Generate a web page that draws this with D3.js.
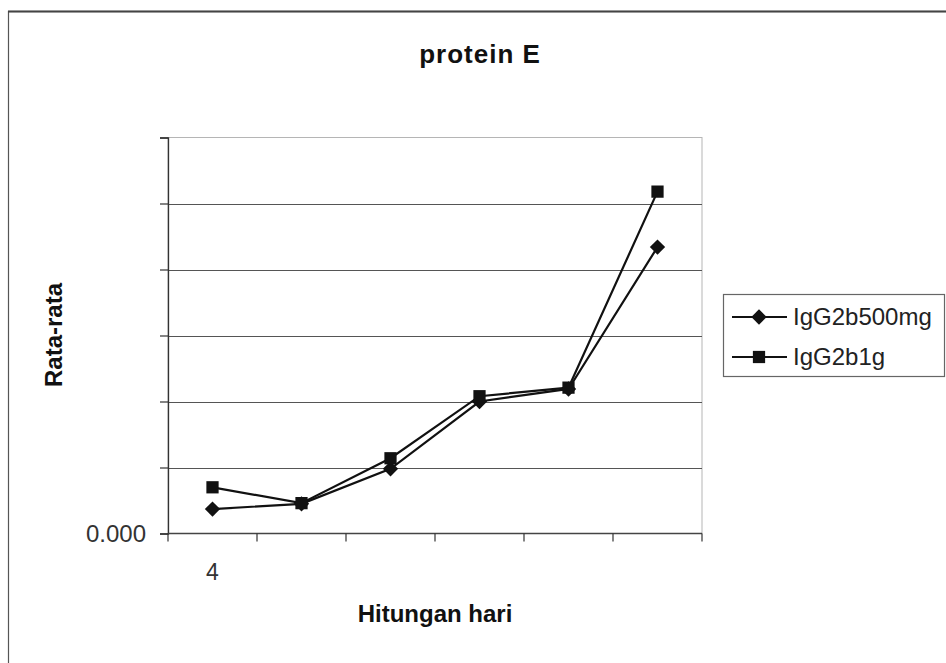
<!DOCTYPE html>
<html>
<head>
<meta charset="utf-8">
<script src="https://cdn.jsdelivr.net/npm/d3@7"></script>
<style>
  html, body { margin: 0; padding: 0; background: #fff; }
  svg { display: block; font-family: Arial, "Liberation Sans", sans-serif; }
</style>
</head>
<body>
<svg id="chart" width="946" height="663"></svg>
<script>
// Day categories along the x axis (only the first carries a printed label)
const dayLabels = ["4", "", "", "", "", ""];

// Mean values per day for each treatment group
const seriesNames = ["IgG2b500mg", "IgG2b1g"];
const igG2b500mg = [0.37, 0.45, 0.98, 2.00, 2.19, 4.34];
const igG2b1g   = [0.70, 0.46, 1.14, 2.08, 2.21, 5.18];

// Value axis: gridline levels, only the baseline is labelled
const yTickValues = [0, 1, 2, 3, 4, 5, 6];
const yTickLabels = ["0.000", "", "", "", "", "", ""];

const titleText = "protein E";
const xTitle = "Hitungan hari";
const yTitle = "Rata-rata";

const svg = d3.select("#chart");
const W = 946, H = 663;

// outer chart frame
svg.append("rect")
  .attr("x", 8.5).attr("y", 11.5)
  .attr("width", W + 10).attr("height", H + 10)
  .attr("fill", "#fff")
  .attr("stroke", "#555").attr("stroke-width", 1.2);
svg.append("line")
  .attr("x1", 8).attr("x2", W).attr("y1", 11.5).attr("y2", 11.5)
  .attr("stroke", "#444").attr("stroke-width", 2);

const plot = { left: 168, right: 702, top: 137.5, bottom: 533.5 };

const x = d3.scaleBand()
  .domain(d3.range(dayLabels.length))
  .range([plot.left, plot.right])
  .paddingInner(0).paddingOuter(0);

const y = d3.scaleLinear()
  .domain([0, 6])
  .range([plot.bottom, plot.top]);

// plot area border (light) on top and right
svg.append("rect")
  .attr("x", plot.left).attr("y", plot.top)
  .attr("width", plot.right - plot.left)
  .attr("height", plot.bottom - plot.top)
  .attr("fill", "none")
  .attr("stroke", "#b5b5b5").attr("stroke-width", 1);

// horizontal gridlines
svg.append("g")
  .selectAll("line")
  .data(yTickValues.filter(v => v > 0 && v < 6))
  .join("line")
  .attr("x1", plot.left).attr("x2", plot.right)
  .attr("y1", d => Math.round(y(d)) + 0.5)
  .attr("y2", d => Math.round(y(d)) + 0.5)
  .attr("stroke", "#555").attr("stroke-width", 1.2);

// y axis
const yAxis = d3.axisLeft(y)
  .tickValues(yTickValues)
  .tickSize(8)
  .tickPadding(14)
  .tickFormat((d, i) => yTickLabels[i]);
const gy = svg.append("g")
  .attr("transform", `translate(${plot.left},0)`)
  .call(yAxis);
gy.select(".domain").attr("stroke", "#333").attr("stroke-width", 1.3);
gy.selectAll(".tick line").attr("stroke", "#333").attr("stroke-width", 1.2);
gy.selectAll(".tick text")
  .attr("font-size", 24).attr("fill", "#333")
  .attr("font-family", "Arial, 'Liberation Sans', sans-serif");

// x axis: ticks at category boundaries, label at category centre
const boundaries = d3.range(dayLabels.length + 1)
  .map(i => plot.left + i * x.step());
const gx = svg.append("g");
gx.append("line")
  .attr("x1", plot.left).attr("x2", plot.right)
  .attr("y1", plot.bottom).attr("y2", plot.bottom)
  .attr("stroke", "#444").attr("stroke-width", 1.3);
gx.selectAll("line.tk")
  .data(boundaries)
  .join("line").attr("class", "tk")
  .attr("x1", d => d).attr("x2", d => d)
  .attr("y1", plot.bottom).attr("y2", plot.bottom + 8)
  .attr("stroke", "#333").attr("stroke-width", 1.2);
gx.selectAll("text")
  .data(dayLabels)
  .join("text")
  .attr("x", (d, i) => x(i) + x.bandwidth() / 2)
  .attr("y", 580)
  .attr("text-anchor", "middle")
  .attr("font-size", 23).attr("fill", "#333")
  .text(d => d);

// data series
const series = [
  { name: seriesNames[0], values: igG2b500mg, symbol: d3.symbolDiamond2, size: 150 },
  { name: seriesNames[1], values: igG2b1g, symbol: d3.symbolSquare, size: 150 }
];

const line = d3.line()
  .x((d, i) => x(i) + x.bandwidth() / 2)
  .y(d => y(d));

series.forEach(s => {
  const g = svg.append("g");
  g.append("path")
    .datum(s.values)
    .attr("d", line)
    .attr("fill", "none")
    .attr("stroke", "#111").attr("stroke-width", 2.2);
  g.selectAll("path.pt")
    .data(s.values)
    .join("path").attr("class", "pt")
    .attr("transform", (d, i) => `translate(${x(i) + x.bandwidth() / 2},${y(d)})`)
    .attr("d", d3.symbol().type(s.symbol).size(s.size))
    .attr("fill", "#111");
});

// title and axis titles
svg.append("text")
  .attr("x", 480).attr("y", 63)
  .attr("text-anchor", "middle")
  .attr("font-size", 26).attr("font-weight", "bold")
  .attr("letter-spacing", 1)
  .attr("fill", "#111")
  .text(titleText);

svg.append("text")
  .attr("x", 435).attr("y", 622)
  .attr("text-anchor", "middle")
  .attr("font-size", 24).attr("font-weight", "bold")
  .attr("fill", "#111")
  .text(xTitle);

svg.append("text")
  .attr("transform", "translate(62,335) rotate(-90)")
  .attr("text-anchor", "middle")
  .attr("font-size", 24).attr("font-weight", "bold")
  .attr("fill", "#111")
  .text(yTitle);

// legend
const legend = svg.append("g");
legend.append("rect")
  .attr("x", 723.5).attr("y", 294.5)
  .attr("width", 221).attr("height", 82)
  .attr("fill", "#fff")
  .attr("stroke", "#666").attr("stroke-width", 1.2);
const rowsY = [317, 357];
series.forEach((s, i) => {
  const ly = rowsY[i];
  legend.append("line")
    .attr("x1", 732).attr("x2", 787)
    .attr("y1", ly).attr("y2", ly)
    .attr("stroke", "#111").attr("stroke-width", 2.2);
  legend.append("path")
    .attr("transform", `translate(759,${ly})`)
    .attr("d", d3.symbol().type(s.symbol).size(s.size))
    .attr("fill", "#111");
  legend.append("text")
    .attr("x", 793).attr("y", ly + 8)
    .attr("font-size", 24).attr("fill", "#222")
    .text(s.name);
});
</script>
</body>
</html>
